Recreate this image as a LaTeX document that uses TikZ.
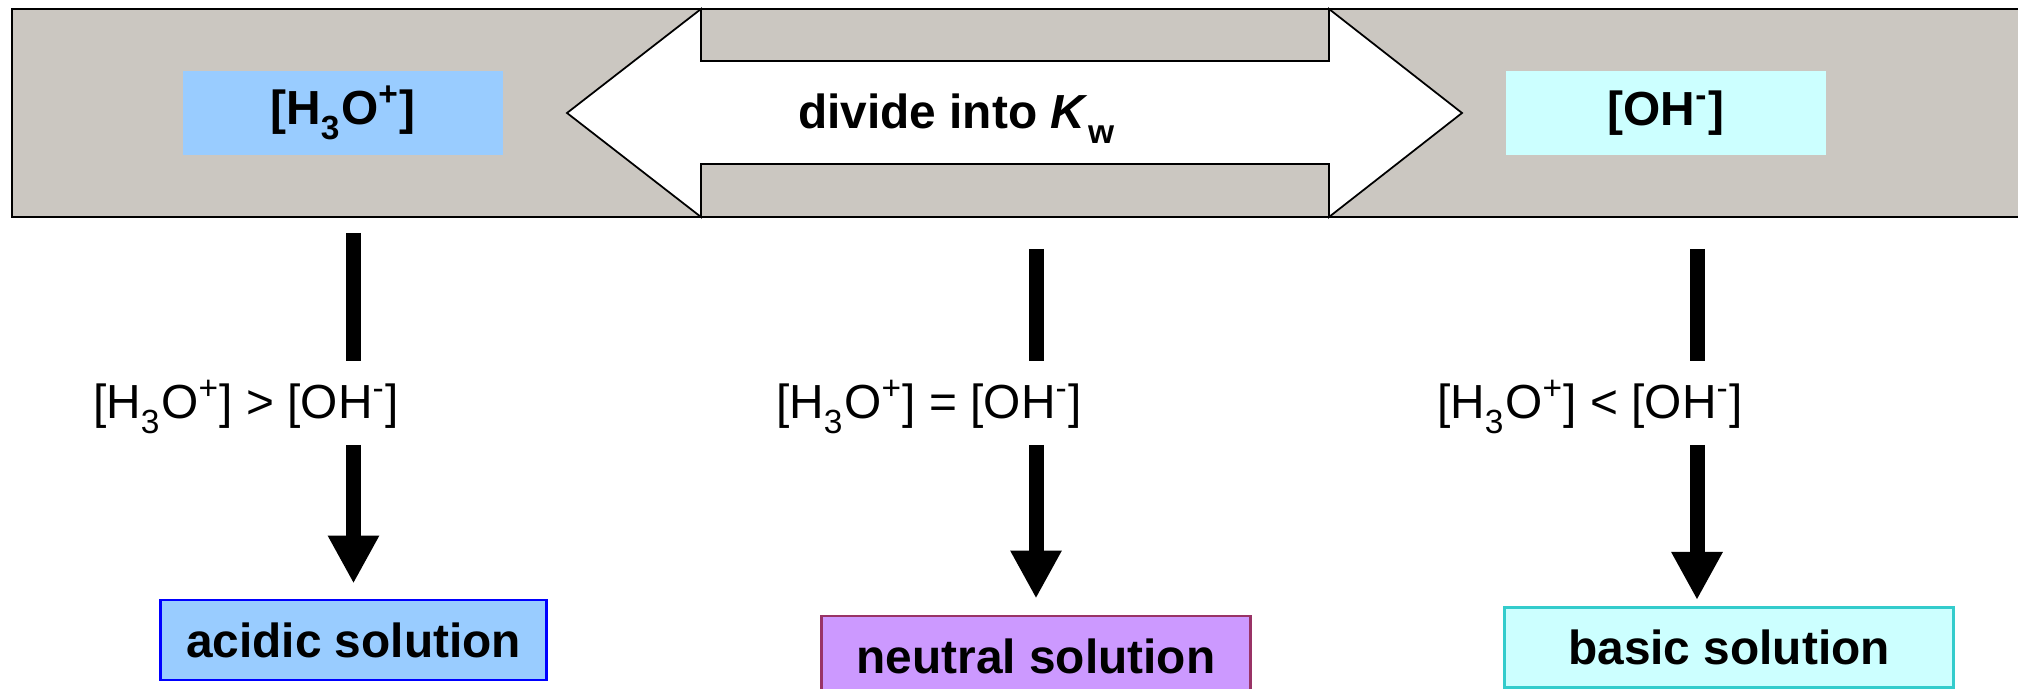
\documentclass[tikz,border=0pt]{standalone}
\usepackage{fontspec}
\setmainfont{Liberation Sans}
\usetikzlibrary{arrows.meta}

\definecolor{bandgray}{RGB}{203,199,193}
\definecolor{acidblue}{RGB}{153,204,255}
\definecolor{basecyan}{RGB}{204,255,255}
\definecolor{neutralviolet}{RGB}{204,153,255}
\definecolor{neutralrim}{RGB}{153,51,102}
\definecolor{baserim}{RGB}{51,204,204}

\newcommand{\lowsub}[1]{\raisebox{-0.3ex}{\textsubscript{#1}}}
\newcommand{\hydronium}{[H\lowsub{3}O\textsuperscript{+}]}
\newcommand{\hydroxide}{[OH\textsuperscript{-}]}

\begin{document}
\begin{tikzpicture}[x=0.01cm, y=-0.01cm,
    >={Triangle[width=0.48cm,length=0.48cm]},
    conc/.style={font=\fontsize{13.6}{16}\selectfont\bfseries, minimum width=3.2cm, minimum height=0.84cm, inner sep=0pt},
    relation/.style={font=\fontsize{13.6}{16}\selectfont, inner sep=0pt},
    result/.style={font=\fontsize{13.6}{16}\selectfont\bfseries, line width=0.8pt, minimum height=0.8cm, inner sep=0pt},
    shaft/.style={line width=0.15cm}]
    \clip (0,0) rectangle (2018,689);

    % Grey band
    \fill[bandgray] (12,9) rectangle (2030,217);
    \draw[line width=0.8pt] (2030,9) -- (12,9) -- (12,217) -- (2030,217);

    % Double arrow
    \draw[fill=white, line width=0.5pt] (567,113) -- (701,9) -- (701,61) -- (1329,61) -- (1329,9)
        -- (1462,113) -- (1329,217) -- (1329,164) -- (701,164) -- (701,217) -- cycle;
    \node[font=\fontsize{13.6}{16}\selectfont\bfseries] (kw) at (957,119) {divide into \textit{K}\lowsub{w}};

    % Concentrations
    \node[conc, fill=acidblue] (hyd) at (343,113) {\hydronium};
    \node[conc, fill=basecyan] (hyx) at (1666,113) {\hydroxide};

    % Comparisons
    \node[relation] (gt) at (246,407) {\hydronium{} > \hydroxide};
    \node[relation] (eq) at (929,407) {\hydronium{} = \hydroxide};
    \node[relation] (lt) at (1590,407) {\hydronium{} < \hydroxide};

    % Solutions
    \node[result, draw=blue, fill=acidblue, minimum width=3.85cm] (acid) at (353.5,640) {acidic solution};
    \node[result, draw=neutralrim, fill=neutralviolet, minimum width=4.28cm] (neutral) at (1036,656) {neutral solution};
    \node[result, draw=baserim, fill=basecyan, minimum width=4.48cm] (basic) at (1729,647.5) {basic solution};

    % Upper shafts
    \coordinate (acA) at (353.5,233);
    \coordinate (acB) at (353.5,361);
    \coordinate (neA) at (1036,249);
    \coordinate (neB) at (1036,361);
    \coordinate (baA) at (1697,249);
    \coordinate (baB) at (1697,361);
    \draw[shaft] (acA) -- (acB);
    \draw[shaft] (neA) -- (neB);
    \draw[shaft] (baA) -- (baB);

    % Lower arrows
    \coordinate (acC) at (353.5,445);
    \coordinate (neC) at (1036,445);
    \coordinate (baC) at (1697,445);
    \coordinate (baD) at (1697,600);
    \draw[shaft, ->] (acC) -- ([yshift=0.15cm]acid.north);
    \draw[shaft, ->] (neC) -- ([yshift=0.16cm]neutral.north);
    \draw[shaft, ->] (baC) -- (baD);
\end{tikzpicture}
\end{document}
